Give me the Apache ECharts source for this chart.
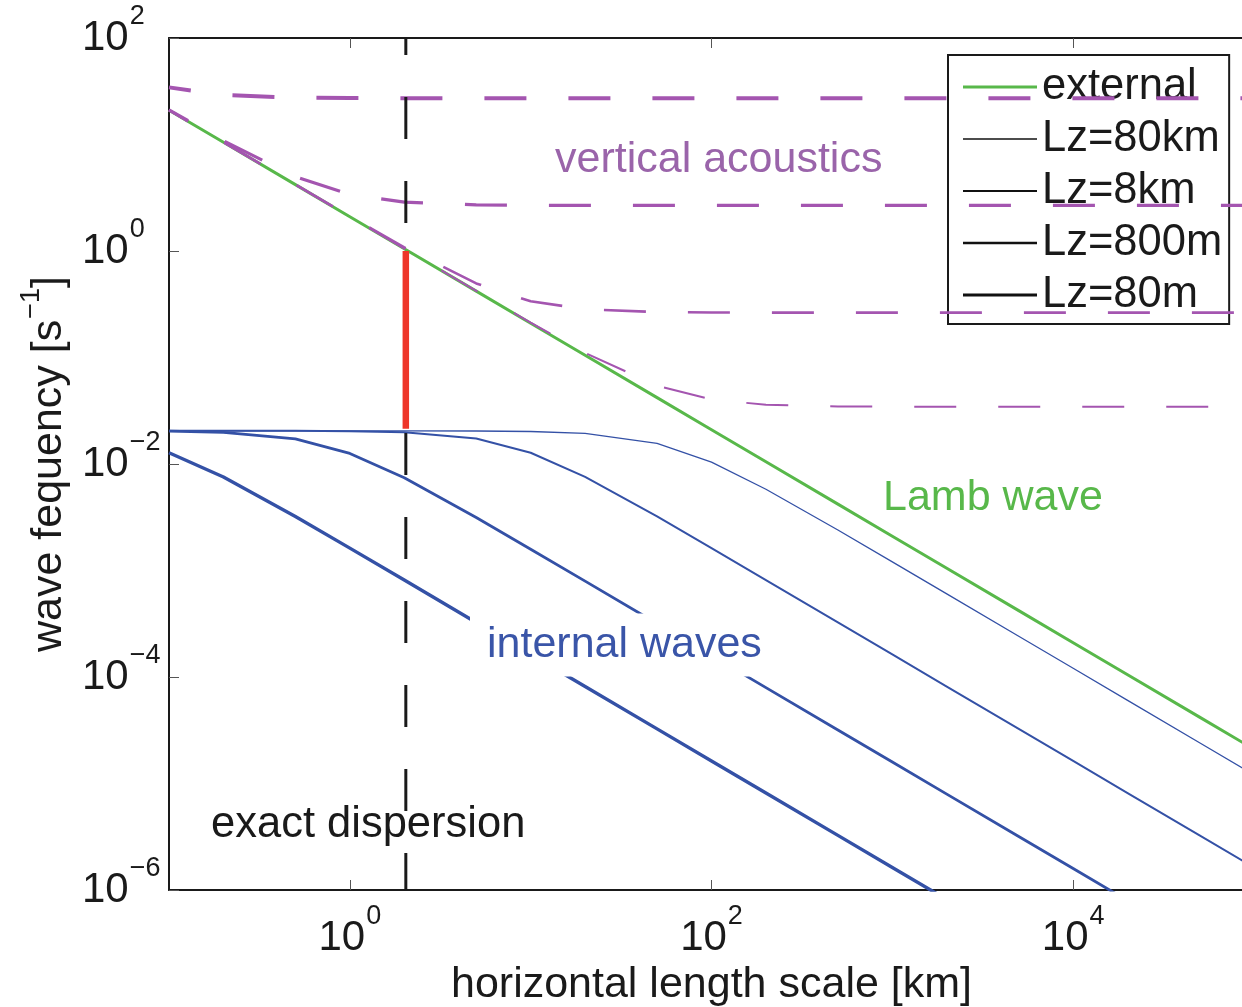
<!DOCTYPE html>
<html>
<head>
<meta charset="utf-8">
<script src="https://cdn.jsdelivr.net/npm/echarts@6/dist/echarts.min.js"></script>
<style>
  html, body { margin: 0; padding: 0; background: #fff; }
  #main { width: 1242px; height: 1007px; }
</style>
</head>
<body>
<div id="main"></div>
<script>
// horizontal length scale [km]
const lengthKm = [0.1, 0.2, 0.5, 1, 2, 5, 10, 20, 50, 100, 200, 500, 1000, 2000, 5000, 10000, 20000, 50000, 100000];

// external (Lamb wave) [s^-1]
const lambWave = [21, 10.5, 4.2, 2.1, 1.05, 0.42, 0.21, 0.105, 0.042, 0.021, 0.0105, 0.0042, 0.0021, 0.00105, 0.00042, 0.00021, 0.000105, 0.000042, 0.000021];

// internal waves
const internal80km = [0.0205, 0.0205, 0.0205, 0.0205, 0.0205, 0.0204, 0.0202, 0.0194, 0.0156, 0.0104, 0.00579, 0.0024, 0.001205, 0.000604, 0.0002415, 0.0001207, 0.0000604, 0.00002415, 0.00001207];
const internal8km = [0.0205, 0.0205, 0.0205, 0.0203, 0.0199, 0.01734, 0.01275, 0.00756, 0.003215, 0.001623, 0.000813, 0.0003255, 0.0001628, 0.0000814, 0.00003256, 0.00001628, 0.00000814, 0.000003256, 0.000001628];
const internal800m = [0.02033, 0.01985, 0.01723, 0.01257, 0.00742, 0.003145, 0.001586, 0.000795, 0.000318, 0.000159, 0.0000795, 0.0000318, 0.0000159, 0.00000795, 0.00000318, 0.00000159, 0.000000795, 0.000000318, 0.000000159];
const internal80m = [0.01275, 0.00756, 0.003215, 0.001623, 0.000813, 0.0003255, 0.0001628, 0.0000814, 0.00003256, 0.00001628, 0.00000814, 0.000003256, 0.000001628, 0.000000814, 0.0000003256, 0.0000001628, 0.0000000814, 0.00000003256, 0.00000001628];

// vertical acoustics
const acoustic80km = [21, 10.5, 4.2, 2.1, 1.051, 0.4214, 0.2128, 0.1105, 0.0543, 0.0403, 0.036, 0.0347, 0.0345, 0.0344, 0.0344, 0.0344, 0.0344, 0.0344, 0.0344];
const acoustic8km = [21, 10.5, 4.21, 2.117, 1.083, 0.496, 0.337, 0.284, 0.2673, 0.2648, 0.2641, 0.264, 0.264, 0.264, 0.264, 0.264, 0.264, 0.264, 0.264];
const acoustic800m = [21.17, 10.84, 4.98, 3.4, 2.878, 2.713, 2.688, 2.682, 2.68, 2.68, 2.68, 2.68, 2.68, 2.68, 2.68, 2.68, 2.68, 2.68, 2.68];
const acoustic80m = [34.4, 29.16, 27.52, 27.28, 27.22, 27.2, 27.2, 27.2, 27.2, 27.2, 27.2, 27.2, 27.2, 27.2, 27.2, 27.2, 27.2, 27.2, 27.2];

// exact dispersion marker
const dispersionX = 2.04;
const dispersionSpan = [100, 0.000001];
const gapSpan = [1.0, 0.0214];

const xTicks = [1, 100, 10000];
const yTicks = [0.000001, 0.0001, 0.01, 1, 100];
const legendNames = ['external', 'Lz=80km', 'Lz=8km', 'Lz=800m', 'Lz=80m'];

const FONT = '"Liberation Sans", Arial, Helvetica, sans-serif';
const GREEN = '#58b84a';
const BLUE = '#3451a6';
const PURPLE = '#a455b0';

function pairs(xs, ys) {
  return xs.map((x, i) => [x, ys[i]]);
}

function expLabel(v) {
  const e = Math.round(Math.log10(v));
  return '{b|10}{s|' + (e < 0 ? '\u2212' + (-e) : e) + '}';
}

const labelRich = {
  b: { fontSize: 42, fontFamily: FONT, color: '#1a1a1a' },
  s: { fontSize: 27, fontFamily: FONT, color: '#1a1a1a', padding: [0, 0, 43, 1] }
};

// legend sample strokes, one thickness per entry
function bar(h) {
  return 'path://M0,0H74V' + h + 'H0Z';
}

const chart = echarts.init(document.getElementById('main'));

function blue(name, data, w) {
  return {
    name: name, type: 'line', data: pairs(lengthKm, data), symbol: 'none',
    lineStyle: { color: BLUE, width: w }, silent: true, z: 2
  };
}
function acoustic(name, data, w) {
  return {
    name: name, type: 'line', data: pairs(lengthKm, data), symbol: 'none',
    lineStyle: { color: PURPLE, width: w, type: [42, 42], dashOffset: 20 }, silent: true, z: 4
  };
}
function legendOnly(name) {
  return {
    name: name, type: 'line', data: [], symbol: 'none',
    itemStyle: { color: '#111' }, lineStyle: { color: '#111' }
  };
}

const option = {
  backgroundColor: '#ffffff',
  animation: false,
  grid: { left: 169, top: 38, right: -12, bottom: 117, containLabel: false, outerBoundsMode: 'none' },
  xAxis: [{
    type: 'log', logBase: 10, min: 0.1, max: 100000,
    name: '{t|horizontal length scale [km]}', nameLocation: 'middle', nameGap: 65,
    nameTextStyle: { rich: { t: { fontSize: 43, fontFamily: FONT, color: '#1a1a1a' } } },
    axisLine: { show: true, lineStyle: { color: '#1a1a1a', width: 2 } },
    axisTick: { show: true, inside: true, length: 10, customValues: xTicks, lineStyle: { color: '#555', width: 1 } },
    axisLabel: { show: true, customValues: xTicks, margin: 13, formatter: expLabel, rich: labelRich },
    splitLine: { show: false }, minorTick: { show: false }
  }, {
    type: 'log', logBase: 10, min: 0.1, max: 100000, position: 'top',
    axisLine: { show: true, lineStyle: { color: '#1a1a1a', width: 2 } },
    axisTick: { show: true, inside: true, length: 10, customValues: xTicks, lineStyle: { color: '#555', width: 1 } },
    axisLabel: { show: false }, splitLine: { show: false }
  }],
  yAxis: {
    type: 'log', logBase: 10, min: 0.000001, max: 100,
    name: '{t|wave fequency [s}{s|\u22121}{t|]}', nameLocation: 'middle', nameGap: 88,
    nameTextStyle: { rich: {
      t: { fontSize: 43, fontFamily: FONT, color: '#1a1a1a' },
      s: { fontSize: 27, fontFamily: FONT, color: '#1a1a1a', padding: [0, 0, 36, 1] }
    } },
    axisLine: { show: true, lineStyle: { color: '#1a1a1a', width: 2 } },
    axisTick: { show: true, inside: true, length: 10, customValues: yTicks, lineStyle: { color: '#555', width: 1 } },
    axisLabel: { show: true, customValues: yTicks, margin: 87, align: 'left', formatter: expLabel, rich: labelRich },
    splitLine: { show: false }, minorTick: { show: false }
  },
  legend: {
    orient: 'vertical', left: 948, top: 55,
    data: [
      { name: legendNames[0], icon: bar(3), itemStyle: { color: GREEN } },
      { name: legendNames[1], icon: bar(1.4), itemStyle: { color: '#111' } },
      { name: legendNames[2], icon: bar(1.9), itemStyle: { color: '#111' } },
      { name: legendNames[3], icon: bar(2.5), itemStyle: { color: '#111' } },
      { name: legendNames[4], icon: bar(3.2), itemStyle: { color: '#111' } }
    ],
    selectedMode: false,
    itemWidth: 74, itemHeight: 14, itemGap: 0,
    padding: [6, 7, 3, 15],
    backgroundColor: '#fff', borderColor: '#1a1a1a', borderWidth: 2, borderRadius: 0,
    textStyle: { fontSize: 43.5, fontFamily: FONT, color: '#1a1a1a', lineHeight: 52 }
  },
  series: [
    blue('i80km', internal80km, 1.3),
    blue('i8km', internal8km, 2),
    blue('i800m', internal800m, 2.8),
    blue('i80m', internal80m, 3.4),
    {
      name: 'external', type: 'line', data: pairs(lengthKm, lambWave), symbol: 'none',
      itemStyle: { color: GREEN }, lineStyle: { color: GREEN, width: 3 }, silent: true, z: 3
    },
    acoustic('a80km', acoustic80km, 2),
    acoustic('a8km', acoustic8km, 2.6),
    acoustic('a800m', acoustic800m, 3.2),
    acoustic('a80m', acoustic80m, 4),
    {
      name: 'dispersion', type: 'line', symbol: 'none', silent: true, z: 5,
      data: dispersionSpan.map(v => [dispersionX, v]),
      lineStyle: { color: '#1a1a1a', width: 3, type: [42, 42], dashOffset: 25 }
    },
    {
      name: 'gap', type: 'line', symbol: 'none', silent: true, z: 6,
      data: gapSpan.map(v => [dispersionX, v]),
      lineStyle: { color: '#ee3529', width: 6.5 }
    },
    legendOnly('Lz=80km'),
    legendOnly('Lz=8km'),
    legendOnly('Lz=800m'),
    legendOnly('Lz=80m')
  ],
  graphic: [
    { type: 'text', z: 100, style: { text: 'vertical acoustics', x: 555, y: 160, fill: '#9a64aa', font: '43px ' + FONT, verticalAlign: 'middle' } },
    { type: 'text', z: 100, style: { text: 'Lamb wave', x: 883, y: 498, fill: GREEN, font: '43px ' + FONT, verticalAlign: 'middle' } },
    { type: 'text', z: 100, style: { text: 'internal waves', x: 470, y: 645, fill: '#3a55a8', font: '43px ' + FONT, verticalAlign: 'middle', backgroundColor: '#fff', padding: [10, 17, 10, 17] } },
    { type: 'text', z: 100, style: { text: 'exact dispersion', x: 211, y: 825, fill: '#1a1a1a', font: '43.5px ' + FONT, verticalAlign: 'middle' } }
  ]
};

chart.setOption(option);
</script>
</body>
</html>
